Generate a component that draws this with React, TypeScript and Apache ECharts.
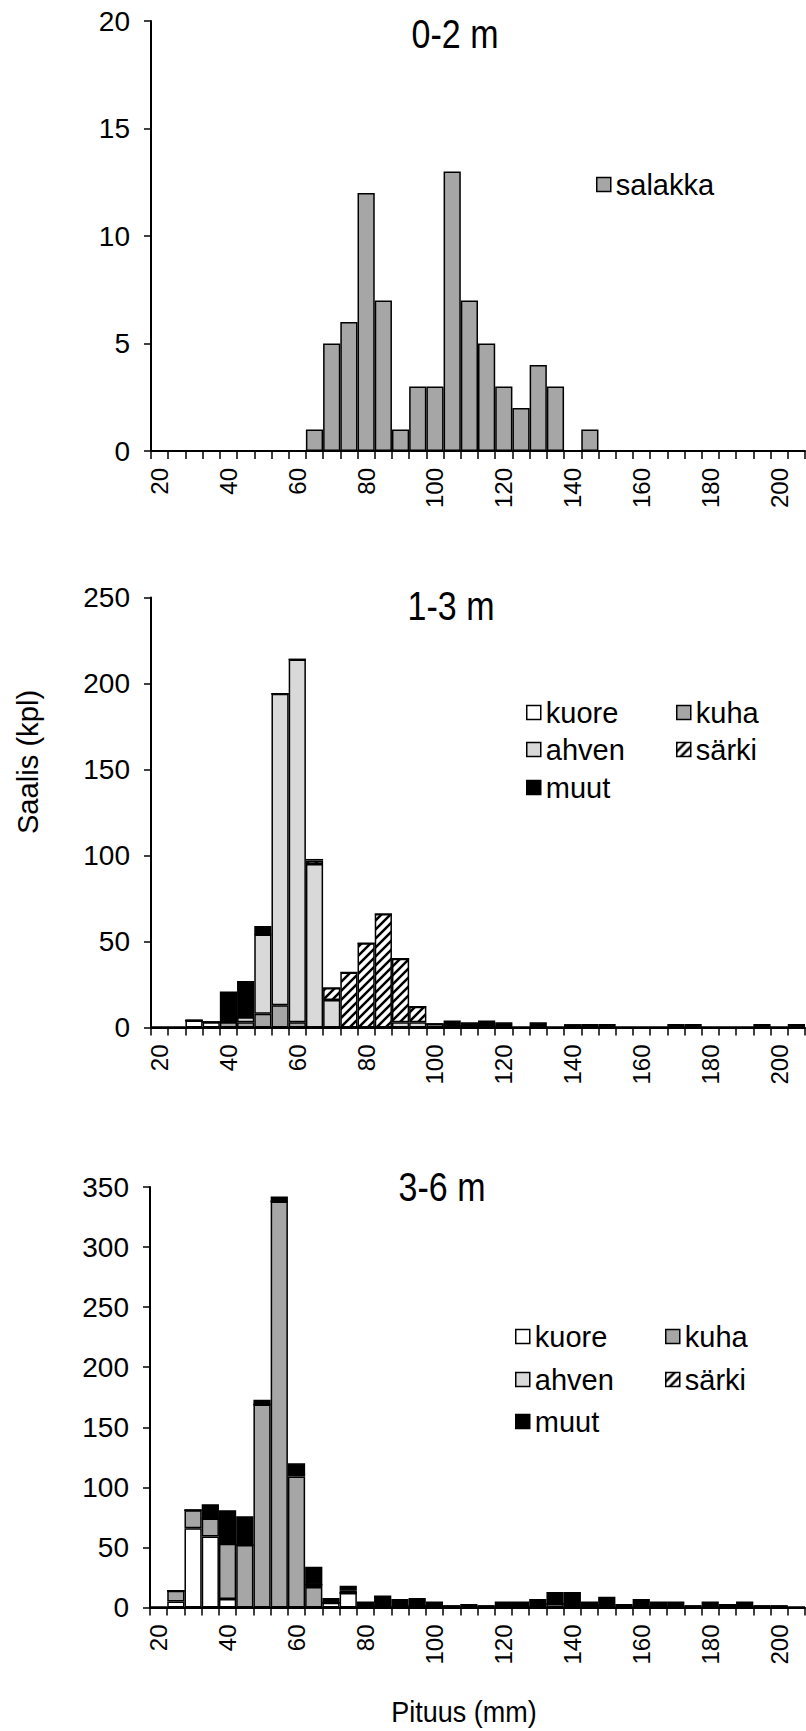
import React, { useEffect, useRef } from 'react';
import * as echarts from 'echarts';

// Length classes (mm)
const lengths = ['20', '25', '30', '35', '40', '45', '50', '55', '60', '65', '70', '75', '80', '85', '90', '95', '100', '105', '110', '115', '120', '125', '130', '135', '140', '145', '150', '155', '160', '165', '170', '175', '180', '185', '190', '195', '200', '205'];

// 0-2 m
const salakka02 = [0, 0, 0, 0, 0, 0, 0, 0, 0, 1, 5, 6, 12, 7, 1, 3, 3, 13, 7, 5, 3, 2, 4, 3, 0, 1, 0, 0, 0, 0, 0, 0, 0, 0, 0, 0, 0, 0];

// 1-3 m
const kuore13 = [0, 0, 4, 3, 0, 0, 0, 0, 0, 0, 0, 0, 0, 0, 0, 0, 0, 1, 0, 1, 0, 0, 0, 0, 1, 0, 0, 0, 0, 0, 0, 0, 0, 0, 0, 0, 0, 0];
const kuha13 = [0, 0, 0, 0, 3, 3, 8, 13, 3, 0, 0, 0, 0, 0, 0, 0, 0, 0, 0, 0, 0, 0, 0, 0, 0, 0, 0, 0, 0, 0, 0, 0, 0, 0, 0, 0, 0, 0];
const ahven13 = [0, 0, 0, 0, 0, 3, 46, 181, 211, 95, 16, 0, 0, 0, 3, 3, 2, 0, 0, 0, 0, 0, 0, 0, 0, 0, 0, 0, 0, 0, 0, 0, 0, 0, 0, 0, 0, 0];
const sarki13 = [0, 0, 0, 0, 0, 0, 0, 0, 0, 2, 7, 32, 49, 66, 37, 9, 0, 0, 0, 0, 0, 0, 0, 0, 0, 0, 0, 0, 0, 0, 0, 0, 0, 0, 0, 0, 0, 0];
const muut13 = [0, 0, 0, 0, 18, 21, 5, 0, 0, 1, 0, 0, 0, 0, 0, 0, 0, 3, 3, 3, 3, 0, 3, 0, 1, 2, 2, 0, 0, 0, 2, 2, 0, 0, 0, 2, 0, 2];

// 3-6 m
const kuore36 = [0, 5, 66, 59, 7, 0, 0, 0, 0, 0, 4, 12, 0, 0, 0, 1, 0, 0, 0, 0, 0, 0, 0, 0, 0, 0, 0, 0, 0, 0, 0, 0, 0, 0, 0, 0, 0, 0];
const kuha36 = [0, 9, 15, 15, 46, 52, 169, 338, 109, 17, 0, 0, 0, 0, 0, 0, 0, 0, 0, 0, 0, 0, 0, 3, 0, 0, 2, 0, 0, 0, 0, 0, 0, 0, 0, 0, 0, 0];
const ahven36 = [0, 0, 0, 0, 0, 0, 0, 0, 2, 2, 0, 0, 0, 0, 0, 0, 0, 0, 0, 0, 0, 0, 0, 0, 0, 0, 0, 0, 0, 0, 0, 0, 0, 0, 0, 0, 0, 0];
const sarki36 = [0, 0, 0, 0, 0, 0, 0, 0, 0, 0, 0, 2, 0, 0, 0, 0, 0, 0, 0, 0, 0, 0, 0, 0, 0, 0, 0, 0, 0, 0, 0, 0, 0, 0, 0, 0, 0, 0];
const muut36 = [0, 0, 0, 12, 28, 24, 4, 4, 9, 15, 4, 4, 5, 10, 7, 7, 5, 2, 3, 2, 5, 5, 7, 10, 13, 5, 7, 3, 7, 5, 5, 2, 5, 3, 5, 2, 2, 0];

const panelTitles = ['0-2 m', '1-3 m', '3-6 m'];
const yMax = [20, 250, 350];
const yInterval = [5, 50, 50];

const FONT = "'Liberation Sans', Arial, sans-serif";

function makeHatch(): string {
  const s = 9;
  const c = document.createElement('canvas');
  c.width = s;
  c.height = s;
  const g = c.getContext('2d');
  if (!g) return '';
  g.fillStyle = '#ffffff';
  g.fillRect(0, 0, s, s);
  g.strokeStyle = '#000000';
  g.lineWidth = 2.5;
  g.beginPath();
  g.moveTo(-1, s + 1);
  g.lineTo(s + 1, -1);
  g.moveTo(-s / 2 - 1, s / 2 + 1);
  g.lineTo(s / 2 + 1, -s / 2 - 1);
  g.moveTo(s / 2 - 1, (3 * s) / 2 + 1);
  g.lineTo((3 * s) / 2 + 1, s / 2 - 1);
  g.stroke();
  return c.toDataURL('image/png');
}

export default function App() {
  const ref = useRef<HTMLDivElement>(null);

  useEffect(() => {
    if (!ref.current) return;
    const chart = echarts.init(ref.current, null, { renderer: 'svg' });
    const hatch = { image: makeHatch(), repeat: 'repeat' };
    const colors: Record<string, any> = {
      salakka: '#a6a6a6',
      kuore: '#ffffff',
      kuha: '#a6a6a6',
      ahven: '#d9d9d9',
      'särki': hatch,
      muut: '#000000',
    };

    const grids = [
      { left: 151, top: 21, width: 654, height: 430 },
      { left: 151, top: 597.5, width: 654, height: 430 },
      { left: 150, top: 1187, width: 655, height: 420.5 },
    ];

    const xAxes = grids.map((_, i) => ({
      type: 'category',
      gridIndex: i,
      data: lengths,
      boundaryGap: true,
      axisLine: { show: true, lineStyle: { color: '#000', width: 2 } },
      axisTick: { show: true, interval: 0, length: 8, lineStyle: { color: '#000', width: 1.5 } },
      axisLabel: {
        interval: 3,
        rotate: 90,
        fontSize: 24,
        color: '#000',
        fontFamily: FONT,
        margin: 17,
        padding: [8, 0, 0, 0],
      },
      splitLine: { show: false },
    }));

    const yAxes = grids.map((_, i) => ({
      type: 'value',
      gridIndex: i,
      min: 0,
      max: yMax[i],
      interval: yInterval[i],
      axisLine: { show: true, lineStyle: { color: '#000', width: 2 } },
      axisTick: { show: true, length: 7, lineStyle: { color: '#000', width: 1.5 } },
      axisLabel: { fontSize: 28, color: '#000', fontFamily: FONT, margin: 21 },
      splitLine: { show: false },
    }));

    const mk = (name: string, data: number[], gi: number) => ({
      type: 'bar',
      name,
      data,
      xAxisIndex: gi,
      yAxisIndex: gi,
      stack: 'g' + gi,
      barCategoryGap: '0%',
      itemStyle: { color: colors[name], borderColor: '#000', borderWidth: 1.5 },
      emphasis: { disabled: true },
    });

    const series = [
      mk('salakka', salakka02, 0),
      mk('kuore', kuore13, 1),
      mk('kuha', kuha13, 1),
      mk('ahven', ahven13, 1),
      mk('särki', sarki13, 1),
      mk('muut', muut13, 1),
      mk('kuore', kuore36, 2),
      mk('kuha', kuha36, 2),
      mk('ahven', ahven36, 2),
      mk('särki', sarki36, 2),
      mk('muut', muut36, 2),
    ];

    const lg = (name: string, left: number, cy: number) => ({
      data: [name],
      left,
      top: cy - 15,
      orient: 'horizontal',
      icon: 'rect',
      itemWidth: 14,
      itemHeight: 14,
      padding: 0,
      selectedMode: false,
      textStyle: { fontSize: 29, color: '#000', fontFamily: FONT },
      itemStyle: { borderColor: '#000', borderWidth: 1.5 },
    });

    const legends = [
      lg('salakka', 596, 185),
      lg('kuore', 526, 713),
      lg('kuha', 676, 713),
      lg('ahven', 526, 750),
      lg('särki', 676, 750),
      lg('muut', 526, 788),
      lg('kuore', 515, 1337),
      lg('kuha', 665, 1337),
      lg('ahven', 515, 1380),
      lg('särki', 665, 1380),
      lg('muut', 515, 1422),
    ];

    const txt = (text: string, x: number, y: number, size: number, rot = 0, sx = 1, sy = 1) => ({
      type: 'text',
      x,
      y,
      rotation: rot,
      scaleX: sx,
      scaleY: sy,
      style: {
        text,
        fill: '#000',
        fontSize: size,
        fontFamily: FONT,
        textAlign: 'center',
        textVerticalAlign: 'middle',
      },
    });

    chart.setOption({
      animation: false,
      backgroundColor: '#ffffff',
      grid: grids,
      xAxis: xAxes,
      yAxis: yAxes,
      legend: legends,
      series,
      graphic: [
        txt(panelTitles[0], 455, 34, 34, 0, 1, 1.2),
        txt(panelTitles[1], 451, 606, 34, 0, 1, 1.2),
        txt(panelTitles[2], 442, 1187, 34, 0, 1, 1.2),
        txt('Saalis (kpl)', 27, 762, 27, Math.PI / 2, 1.08, 1.1),
        txt('Pituus (mm)', 464, 1711, 27, 0, 1, 1.12),
      ],
    });

    return () => chart.dispose();
  }, []);

  return (
    <div
      ref={ref}
      style={{ position: 'absolute', left: 0, top: 0, width: 806, height: 1731, background: '#fff' }}
    />
  );
}
